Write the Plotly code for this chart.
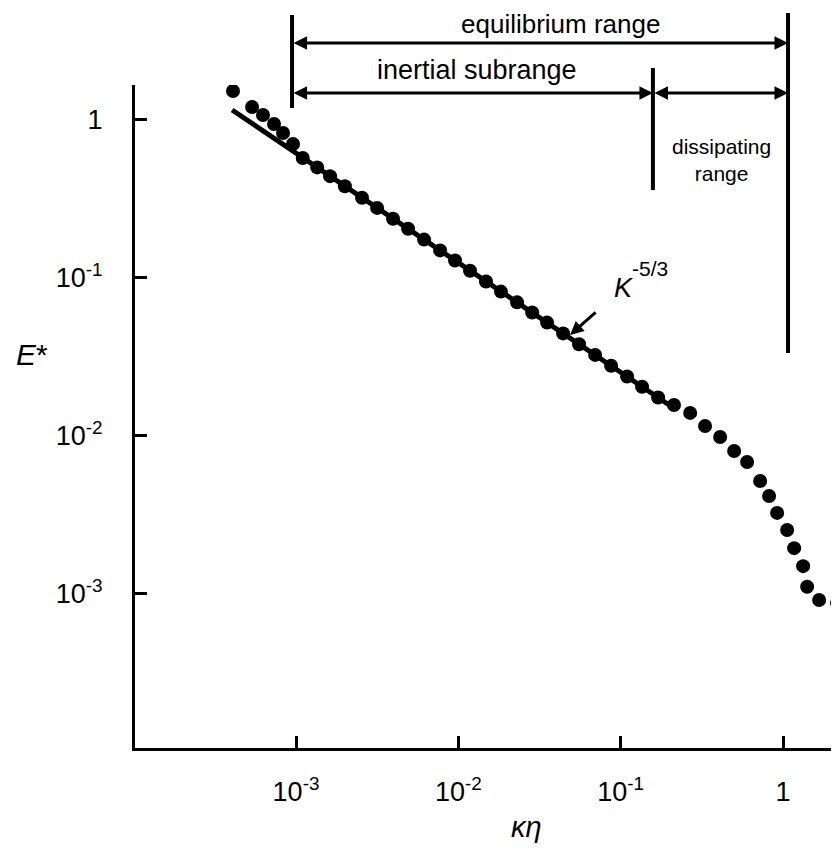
import numpy as np
import plotly.graph_objects as go

# ---- data ----
k_eta = [4.09e-4, 5.36e-4, 6.26e-4, 7.32e-4, 8.32e-4, 9.58e-4,
         1.10e-3, 1.35e-3, 1.62e-3, 2.00e-3, 2.55e-3, 3.16e-3, 3.96e-3, 4.90e-3,
         6.15e-3, 7.72e-3, 9.54e-3, 1.18e-2, 1.48e-2, 1.83e-2, 2.30e-2, 2.85e-2,
         3.52e-2, 4.42e-2, 5.54e-2, 6.96e-2, 8.73e-2, 0.1095, 0.1355, 0.170, 0.213,
         0.268, 0.331, 0.410, 0.500, 0.601, 0.723, 0.821, 0.920, 1.060, 1.171,
         1.330, 1.408, 1.669, 2.154]
E_star = [1.526, 1.209, 1.076, 0.943, 0.827, 0.705,
          0.575, 0.501, 0.441, 0.3805, 0.3219, 0.2777, 0.2372, 0.2048, 0.1750,
          0.1495, 0.1291, 0.1112, 0.0950, 0.0820, 0.0701, 0.0605, 0.0522, 0.0446,
          0.0381, 0.0326, 0.0278, 0.0238, 0.0205, 0.0175, 0.0157,
          0.0140, 0.01157, 0.00986, 0.00804, 0.00685, 0.00519, 0.00417, 0.00326,
          0.00254, 0.00195, 0.00150, 0.00111, 0.000916, 0.000877]

fit_x = [4.04e-4, 0.2074]
fit_y = [1.157, 0.01526]

x_tickvals = [1e-3, 1e-2, 1e-1, 1]
x_ticktext = ["10<sup>-3</sup>", "10<sup>-2</sup>", "10<sup>-1</sup>", "1"]
y_tickvals = [1e-3, 1e-2, 1e-1, 1]
y_ticktext = ["10<sup>-3</sup>", "10<sup>-2</sup>", "10<sup>-1</sup>", "1"]

# range boundaries (k*eta)
b_equil_start = 9.45e-4
b_inertial_end = 0.158
b_equil_end = 1.074
arrow_head = (0.0488, 0.0436)

FONT = "Liberation Sans, Arial, sans-serif"

fig = go.Figure()
fig.add_trace(go.Scatter(x=fit_x, y=fit_y, mode="lines",
                         line=dict(color="black", width=5), showlegend=False))
fig.add_trace(go.Scatter(x=k_eta, y=E_star, mode="markers",
                         marker=dict(color="black", size=14), showlegend=False))

shapes = []
def vline(xv, y0, y1):
    shapes.append(dict(type="line", xref="x", yref="paper", x0=xv, x1=xv,
                       y0=y0, y1=y1, line=dict(color="black", width=4)))

vline(b_equil_start, 0.9653, 1.1056)
vline(b_inertial_end, 0.8416, 1.0256)
vline(b_equil_end, 0.5958, 1.1086)

annotations = []
def darrow(xa, xb, yp):
    annotations.append(dict(xref="x", yref="paper", x=np.log10(xb), y=yp,
                            axref="x", ayref="pixel", ax=np.log10(xa), ay=0,
                            showarrow=True, arrowhead=2, arrowside="end+start",
                            arrowwidth=3, arrowsize=0.9, arrowcolor="black",
                            text=""))

darrow(b_equil_start, b_equil_end, 1.0633)
darrow(b_equil_start, b_inertial_end, 0.9879)
darrow(b_inertial_end, b_equil_end, 0.9879)

def text(t, xp, yp, size, xanchor="center", **kw):
    annotations.append(dict(xref="paper", yref="paper", x=xp, y=yp, text=t,
                            showarrow=False, font=dict(family=FONT, size=size, color="black"),
                            xanchor=xanchor, yanchor="middle", borderpad=0, **kw))

text("equilibrium range", 0.6037, 1.0925, 26)
text("inertial subrange", 0.4858, 1.0226, 27)
text("dissipating<br>range", 0.8338, 0.8869, 21)
text("<i>K</i>", 0.709, 0.6939, 27, xanchor="right")
text("-5/3", 0.705, 0.7225, 21, xanchor="left")
text("<i>E</i>*", -0.1463, 0.5928, 30)
text("<i>κη</i>", 0.5568, -0.119, 29)

annotations.append(dict(xref="x", yref="y", x=np.log10(arrow_head[0]), y=np.log10(arrow_head[1]),
                        ax=27, ay=-24, showarrow=True, arrowhead=2, arrowwidth=3,
                        arrowsize=0.9, arrowcolor="black", text=""))

axis_common = dict(type="log", showgrid=False, zeroline=False, showline=True,
                   linecolor="black", linewidth=3, ticks="inside", ticklen=12,
                   tickwidth=3, tickcolor="black",
                   tickfont=dict(family=FONT, size=27, color="black"))

# the page body adds an 8 px margin, so the figure is smaller and shifted
fig.update_layout(
    width=831, height=840,
    margin=dict(l=127, r=0, t=77, b=100),
    paper_bgcolor="white", plot_bgcolor="white",
    xaxis=dict(range=[-3.992, 0.345], tickmode="array", tickvals=x_tickvals,
               ticktext=x_ticktext, ticklabelstandoff=18, **axis_common),
    yaxis=dict(range=[-3.975, 0.2215], tickmode="array", tickvals=y_tickvals,
               ticktext=y_ticktext, ticklabelstandoff=24, **axis_common),
    shapes=shapes, annotations=annotations, showlegend=False,
)

fig.write_html("out.html")
